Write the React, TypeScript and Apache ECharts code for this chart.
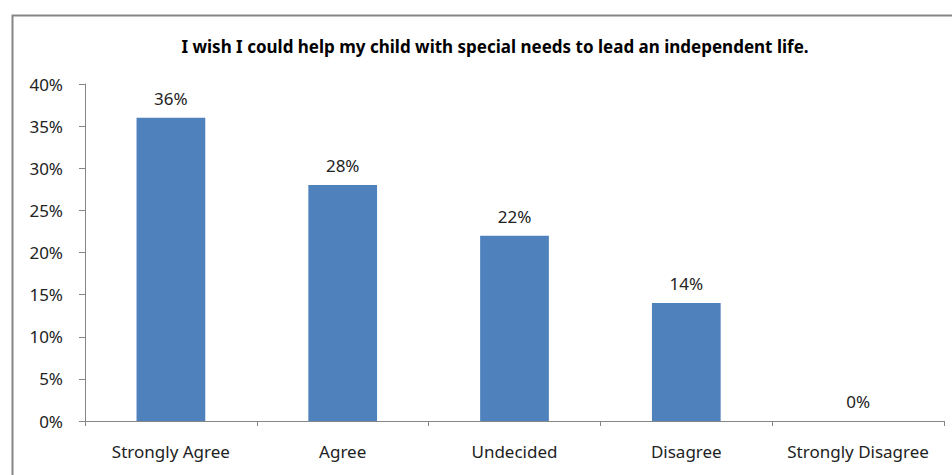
import React, { useEffect, useRef } from "react";
import * as echarts from "echarts";

const categories = ["Strongly Agree", "Agree", "Undecided", "Disagree", "Strongly Disagree"];
const values = [36, 28, 22, 14, 0];
const titleText = "I wish I could help my child with special needs to lead an independent life.";

export default function App() {
  const ref = useRef<HTMLDivElement>(null);
  useEffect(() => {
    if (!ref.current) return;
    const chart = echarts.init(ref.current, null, { renderer: "svg" });
    const font = "'Noto Sans', sans-serif";
    chart.setOption({
      animation: false,
      title: {
        text: titleText,
        left: 490,
        textAlign: "center",
        top: 33,
        textStyle: { fontFamily: font, fontSize: 17, fontWeight: "bold", color: "#000" },
      },
      graphic: [
        {
          type: "rect",
          left: 10,
          top: 13,
          shape: { width: 980, height: 500 },
          style: { fill: "none", stroke: "#868686", lineWidth: 2 },
          silent: true,
        },
      ],
      grid: { left: 85, right: 8, top: 84, bottom: 54 },
      xAxis: {
        type: "category",
        data: categories,
        axisLine: { lineStyle: { color: "#868686" } },
        axisTick: { show: true, length: 5, lineStyle: { color: "#868686" } },
        axisLabel: { fontFamily: font, fontSize: 17, color: "#222", margin: 22, interval: 0, hideOverlap: false },
      },
      yAxis: {
        type: "value",
        min: 0,
        max: 40,
        interval: 5,
        axisLine: { show: true, lineStyle: { color: "#868686" } },
        axisTick: { show: true, length: 6, lineStyle: { color: "#868686" } },
        splitLine: { show: false },
        axisLabel: {
          fontFamily: font,
          fontSize: 17,
          color: "#222",
          margin: 22,
          formatter: (v: number) => v + "%",
        },
      },
      series: [
        {
          type: "bar",
          data: values,
          barWidth: "40%",
          itemStyle: { color: "#4F81BD" },
          label: {
            show: true,
            position: "top",
            distance: 11,
            fontFamily: font,
            fontSize: 17,
            color: "#222",
            formatter: (p: any) => p.value + "%",
          },
        },
      ],
    });
    return () => chart.dispose();
  }, []);
  return (
    <div
      ref={ref}
      style={{ position: "absolute", left: 0, top: 0, width: 952, height: 475, background: "#fff" }}
    />
  );
}
